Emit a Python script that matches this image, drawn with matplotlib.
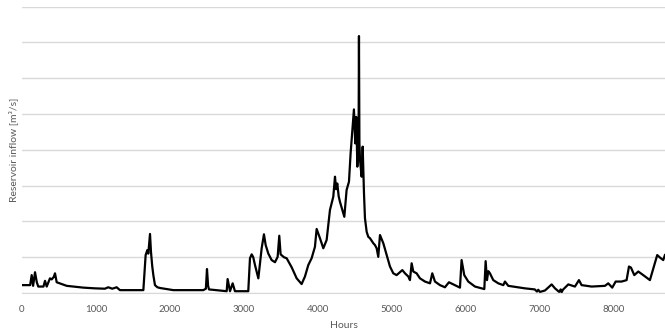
import matplotlib.pyplot as plt

# hourly reservoir inflow (hours, m3/s)
hours = [0, 60, 110, 131, 150, 176, 200, 220, 290, 311, 334, 378, 401, 430, 446, 469, 536, 604,
         829, 986, 1120, 1166, 1220, 1279, 1324, 1640, 1671, 1694, 1707, 1730, 1743, 1760, 1775, 1797,
         1830, 1865, 2045, 2450, 2485, 2500, 2515, 2527, 2766, 2779, 2811, 2847, 2878, 3058, 3081, 3104,
         3125, 3149, 3194, 3239, 3270, 3293, 3329, 3374, 3419, 3455, 3477, 3495, 3540, 3577, 3644, 3712,
         3779, 3824, 3869, 3914, 3959, 3982, 4027, 4072, 4117, 4162, 4207, 4230, 4245, 4261, 4280,
         4297, 4329, 4356, 4387, 4419, 4441, 4464, 4486, 4504, 4518, 4532, 4541, 4548, 4554, 4560,
         4568, 4590, 4604, 4622, 4635, 4658, 4680, 4703, 4748, 4770, 4793, 4815, 4838, 4883, 4928,
         4973, 5018, 5063, 5108, 5140, 5176, 5221, 5243, 5266, 5288, 5333, 5378, 5446, 5514, 5545,
         5581, 5649, 5716, 5770, 5851, 5919, 5941, 5977, 6031, 6122, 6248, 6266, 6284, 6302, 6324,
         6369, 6437, 6505, 6527, 6572, 6797, 6930, 6960, 6977, 7000, 7068, 7158, 7203, 7260, 7280,
         7293, 7310, 7383, 7473, 7527, 7563, 7698, 7878, 7923, 7977, 8023, 8104, 8171, 8203, 8230,
         8275, 8329, 8396, 8486, 8545, 8585, 8622, 8666, 8689]
inflow = [22, 22, 22, 50, 20, 58, 30, 18, 18, 34, 18, 41, 38, 45, 55, 30, 25, 20,
          15, 13, 12, 16, 12, 16, 8, 8, 106, 120, 110, 165, 115, 75, 50, 22,
          16, 14, 8, 8, 12, 67, 20, 10, 5, 39, 5, 27, 5, 5, 97, 108,
          100, 78, 41, 125, 164, 134, 110, 92, 86, 101, 160, 108, 100, 97, 72, 41,
          25, 46, 78, 97, 129, 179, 153, 125, 148, 232, 269, 325, 290, 306, 270,
          255, 232, 213, 288, 311, 390, 455, 513, 418, 492, 353, 409, 380, 718, 420,
          372, 325, 409, 278, 209, 171, 157, 153, 139, 134, 125, 101, 162, 139, 106,
          74, 55, 50, 58, 64, 55, 46, 36, 83, 60, 55, 41, 32, 27, 55,
          32, 22, 16, 30, 22, 15, 92, 50, 32, 18, 11, 89, 36, 61, 55,
          36, 27, 22, 32, 20, 13, 10, 4, 9, 3, 7, 24, 13, 3, 10,
          2, 9, 24, 18, 36, 22, 18, 20, 27, 15, 32, 32, 36, 74, 71,
          50, 60, 50, 36, 78, 106, 99, 92, 106]

fig = plt.figure(figsize=(6.65, 3.35), dpi=100)
ax = fig.add_axes([22 / 665, 1 - 293 / 335, 1 - 22 / 665, (293 - 6.7) / 335])

ax.plot(hours, inflow, color='black', lw=1.6, solid_joinstyle='round')

ax.set_xlim(0, 8690)
ax.set_ylim(0, 800)
ax.set_xticks(range(0, 9000, 1000))
ax.set_yticks(range(0, 900, 100))
ax.set_yticklabels([])
ax.grid(axis='y', color='#d9d9d9', lw=1)
ax.set_axisbelow(True)
for s in ['top', 'right', 'left']:
    ax.spines[s].set_visible(False)
ax.spines['bottom'].set_color('#d9d9d9')
ax.tick_params(length=0, labelsize=7, labelcolor='#595959', pad=9)
for t in ax.get_xticklabels():
    t.set_family('Lato')

ax.set_xlabel('Hours', fontsize=7.5, color='#595959', family='Lato', labelpad=5)
fig.text(13 / 665, 1 - 150 / 335, 'Reservoir inflow [m³/s]', rotation=90, ha='center', va='center',
         fontsize=7.5, color='#595959', family='Lato')

fig.savefig('out.png', dpi=100)
